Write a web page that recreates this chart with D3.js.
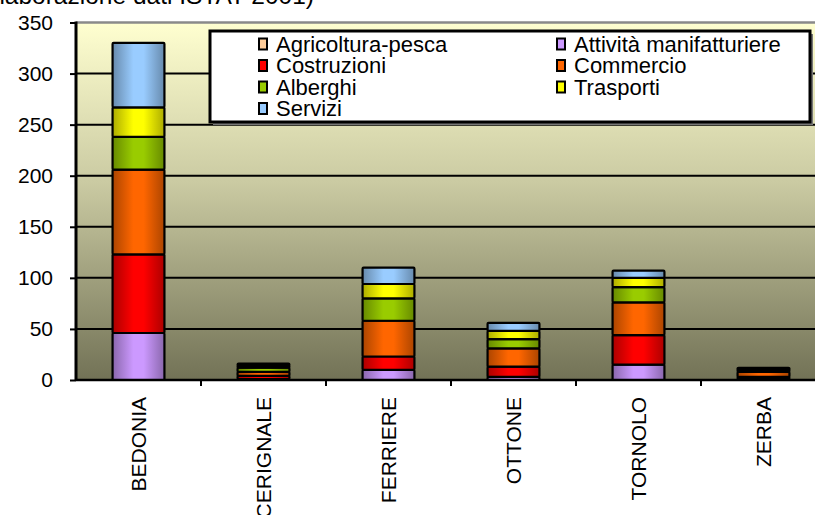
<!DOCTYPE html>
<html><head><meta charset="utf-8">
<script src="https://cdn.jsdelivr.net/npm/d3@7"></script>
<style>body{margin:0;background:#fff;overflow:hidden}svg{display:block;font-family:"Liberation Sans",Arial,sans-serif}</style>
</head><body><svg id="c" width="815" height="515"></svg>
<script>
const categories = ["BEDONIA","CERIGNALE","FERRIERE","OTTONE","TORNOLO","ZERBA"];
const seriesNames = ["Agricoltura-pesca","Attività manifatturiere","Costruzioni","Commercio","Alberghi","Trasporti","Servizi"];
const seriesColors = ["#FFCC99","#CC99FF","#FF0000","#FF6600","#99CC00","#FFFF00","#99CCFF"];
const agricoltura   = [0, 0, 0, 0, 0, 0];
const manifatturiere= [46, 1, 10, 3, 15, 1];
const costruzioni   = [77, 3, 13, 10, 29, 2];
const commercio     = [83, 4, 35, 18, 32, 5];
const alberghi      = [32, 4, 22, 9, 15, 2];
const trasporti     = [29, 2, 14, 8, 9, 1];
const servizi       = [63, 2, 16, 8, 7, 1];
const yTicks = [0,50,100,150,200,250,300,350];
const titleText = "(elaborazione dati ISTAT 2001)";

const seriesValues = [agricoltura,manifatturiere,costruzioni,commercio,alberghi,trasporti,servizi];
const rows = categories.map((c,i)=>{const o={cat:c}; seriesNames.forEach((s,j)=>o[s]=seriesValues[j][i]); return o;});
const stack = d3.stack().keys(seriesNames)(rows);

const svg = d3.select("#c");
const L=76, R=826, T=22.5, B=380;
const x = d3.scaleBand().domain(categories).range([L,R]).padding(0);
const y = d3.scaleLinear().domain([0,350]).range([B,T]);
const defs = svg.append("defs");
const bg = defs.append("linearGradient").attr("id","bg").attr("x1",0).attr("y1",0).attr("x2",0).attr("y2",1);
bg.append("stop").attr("offset","0%").attr("stop-color","#FFFFD0");
bg.append("stop").attr("offset","45%").attr("stop-color","#CACAA2");
bg.append("stop").attr("offset","100%").attr("stop-color","#727256");
seriesColors.forEach((c,i)=>{
  const g = defs.append("linearGradient").attr("id","g"+i).attr("x1",0).attr("x2",1).attr("y1",0).attr("y2",0);
  const d = d3.color(c).darker(1.1);
  g.append("stop").attr("offset","0%").attr("stop-color",d);
  g.append("stop").attr("offset","40%").attr("stop-color",c);
  g.append("stop").attr("offset","60%").attr("stop-color",c);
  g.append("stop").attr("offset","100%").attr("stop-color",d);
});

svg.append("text").attr("x",314).attr("y",4).attr("text-anchor","end").attr("font-size",24.5).text(titleText);

svg.append("rect").attr("x",L).attr("y",T).attr("width",R-L).attr("height",B-T).attr("fill","url(#bg)");
svg.append("line").attr("x1",L).attr("x2",R).attr("y1",T).attr("y2",T).attr("stroke","#8a8a8a").attr("stroke-width",2.5);
svg.append("g").selectAll("line").data(yTicks.filter(v=>v>0&&v<350)).join("line")
  .attr("x1",L).attr("x2",R).attr("y1",d=>y(d)).attr("y2",d=>y(d)).attr("stroke","#000").attr("stroke-width",2);

const bw = x.bandwidth()*0.415;
const gBars = svg.append("g");
stack.forEach((s,i)=>{
  gBars.append("g").selectAll("rect").data(s.filter(d=>d[1]-d[0]>0)).join("rect")
    .attr("x",d=>x(d.data.cat)+x.bandwidth()/2-bw/2).attr("width",bw)
    .attr("y",d=>y(d[1])).attr("height",d=>y(d[0])-y(d[1]))
    .attr("fill","url(#g"+i+")").attr("stroke","#000").attr("stroke-width",2.2).attr("rx",1);
});

const ya = svg.append("g").attr("transform",`translate(${L},0)`).call(d3.axisLeft(y).tickValues(yTicks).tickSize(6).tickSizeOuter(0).tickPadding(17));
ya.select(".domain").attr("stroke","#000").attr("stroke-width",3).attr("d",`M0,${T-1}V${B+1}`);
ya.selectAll(".tick line").attr("stroke","#000").attr("stroke-width",2);
ya.selectAll("text").attr("font-size",21).attr("fill","#000").attr("font-family","Liberation Sans, Arial, sans-serif");

const xa = svg.append("g").attr("transform",`translate(0,${B})`);
xa.append("line").attr("x1",L).attr("x2",R).attr("stroke","#000").attr("stroke-width",2.5);
xa.selectAll("line.t").data(categories.slice(1)).join("line").attr("class","t")
  .attr("x1",d=>x(d)).attr("x2",d=>x(d)).attr("y1",0).attr("y2",6).attr("stroke","#000").attr("stroke-width",2);
xa.selectAll("text").data(categories).join("text")
  .attr("transform",d=>`translate(${x(d)+x.bandwidth()/2},17) rotate(-90)`)
  .attr("text-anchor","end").attr("dy","0.35em").attr("font-size",21).text(d=>d);

const lg = svg.append("g");
const LX=210, LY=31, LW=600, LH=91;
lg.append("rect").attr("x",LX+3).attr("y",LY+3).attr("width",LW).attr("height",LH).attr("fill","#777");
lg.append("rect").attr("x",LX).attr("y",LY).attr("width",LW).attr("height",LH).attr("fill","#fff");
defs.append("clipPath").attr("id","lc").append("rect").attr("x",LX).attr("y",LY).attr("width",LW).attr("height",LH);
const items = lg.append("g").attr("clip-path","url(#lc)");
seriesNames.forEach((n,i)=>{
  const col=i%2, row=Math.floor(i/2);
  const ix = col===0?259:557, iy = 44+row*21.5;
  items.append("rect").attr("x",ix).attr("y",iy-5.5).attr("width",8).attr("height",11)
    .attr("fill",seriesColors[i]).attr("stroke","#000").attr("stroke-width",2);
  items.append("text").attr("x",ix+17).attr("y",iy).attr("dy","0.36em").attr("font-size",22).text(n);
});
lg.append("rect").attr("x",LX).attr("y",LY).attr("width",LW).attr("height",LH).attr("fill","none").attr("stroke","#000").attr("stroke-width",3);
</script></body></html>
